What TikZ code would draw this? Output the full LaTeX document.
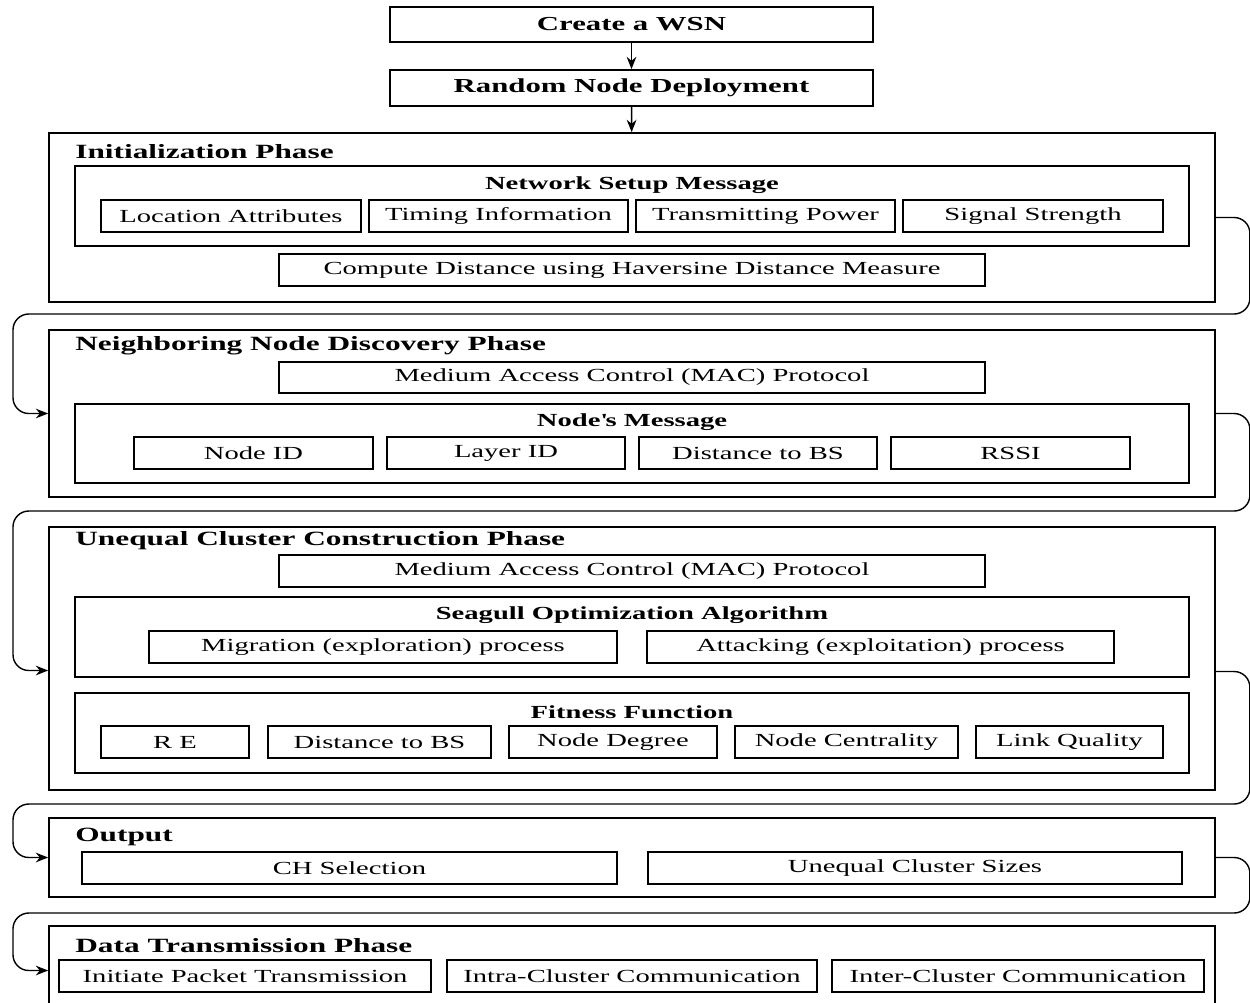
\documentclass[tikz,border=0pt]{standalone}
\usepackage{fontspec}
\setmainfont{Liberation Serif}[FakeStretch=1.55]
\usetikzlibrary{arrows.meta}

\begin{document}
\begin{tikzpicture}[x=0.02cm,y=-0.02cm,>={Stealth[length=7pt,width=5.5pt]},
  box/.style 2 args={draw,line width=1pt,minimum width=#1*0.02cm,minimum height=#2*0.02cm,inner sep=0pt,font=\fontsize{10.5}{12}\selectfont},
  phase/.style={anchor=west,inner sep=0pt,font=\fontsize{11.5}{13}\selectfont\bfseries},
  head/.style={inner sep=0pt,font=\fontsize{10.5}{12}\selectfont\bfseries},
  flow/.style={->,line width=0.8pt,rounded corners=9pt}]
  \useasboundingbox (0,0) rectangle (1250,1002);
  \clip (0,0) rectangle (1250,1002);
  % Start
  \node[box={483}{35},font=\fontsize{11.3}{13}\selectfont\bfseries] (wsn) at (631.5,24.5) {Create a WSN};
  \node[box={483}{36},font=\fontsize{11.3}{13}\selectfont\bfseries] (deploy) at (631.5,88) {Random Node Deployment};
  % Initialization
  \node[box={1166}{169}] (init) at (632,217.5) {};
  \node[phase] (initT) at (75,152) {Initialization Phase};
  \node[box={1114}{80}] (setup) at (632,206) {};
  \node[head] (setupT) at (632,185) {Network Setup Message};
  \node[box={260}{32}] (loc) at (231,216) {Location Attributes};
  \node[box={259}{32}] (timing) at (498.5,216) {Timing Information};
  \node[box={259}{32}] (power) at (765.5,216) {Transmitting Power};
  \node[box={260}{32}] (signal) at (1033,216) {Signal Strength};
  \node[box={706}{32}] (hav) at (632,270) {Compute Distance using Haversine Distance Measure};
  % Neighbor discovery
  \node[box={1166}{167}] (neigh) at (632,413.5) {};
  \node[phase] (neighT) at (75,346) {Neighboring Node Discovery Phase};
  \node[box={706}{31}] (macA) at (632,377.5) {Medium Access Control (MAC) Protocol};
  \node[box={1114}{79}] (msg) at (632,443.5) {};
  \node[head] (msgT) at (632,422) {Node\textquotesingle s Message};
  \node[box={239}{32}] (nid) at (253.5,453) {Node ID};
  \node[box={238}{32}] (lid) at (506,453) {Layer ID};
  \node[box={238}{32}] (dist) at (758,453) {Distance to BS};
  \node[box={239}{32}] (rssi) at (1010.5,453) {RSSI};
  % Cluster construction
  \node[box={1166}{263}] (uneq) at (632,658.5) {};
  \node[phase] (uneqT) at (75,541) {Unequal Cluster Construction Phase};
  \node[box={706}{32}] (macB) at (632,571) {Medium Access Control (MAC) Protocol};
  \node[box={1114}{80}] (soa) at (632,637) {};
  \node[head] (soaT) at (632,615) {Seagull Optimization Algorithm};
  \node[box={468}{32}] (migr) at (383,647) {Migration (exploration) process};
  \node[box={467}{32}] (attack) at (880.5,647) {Attacking (exploitation) process};
  \node[box={1114}{80}] (fit) at (632,733) {};
  \node[head] (fitT) at (632,712) {Fitness Function};
  \node[box={148}{32}] (re) at (175,742) {R E};
  \node[box={223}{32}] (dbs) at (379.5,742) {Distance to BS};
  \node[box={208}{32}] (deg) at (613,742) {Node Degree};
  \node[box={223}{32}] (cent) at (846.5,742) {Node Centrality};
  \node[box={187}{32}] (link) at (1069.5,742) {Link Quality};
  % Output
  \node[box={1166}{79}] (out) at (632,857.5) {};
  \node[phase] (outT) at (75,837) {Output};
  \node[box={535}{32}] (ch) at (349.5,868) {CH Selection};
  \node[box={534}{32}] (sizes) at (915,868) {Unequal Cluster Sizes};
  % Data transmission
  \node[box={1166}{89}] (data) at (632,970.5) {};
  \node[phase] (dataT) at (75,946) {Data Transmission Phase};
  \node[box={372}{32}] (pkt) at (245,976) {Initiate Packet Transmission};
  \node[box={370}{32}] (intra) at (632,976) {Intra-Cluster Communication};
  \node[box={372}{32}] (inter) at (1018,976) {Inter-Cluster Communication};
  % Arrows
  \draw[->,line width=0.9pt] (wsn) -- (deploy);
  \draw[->,line width=0.9pt] (deploy) -- (init);
  \draw[flow] (init.east) -- ++(34,0) |- (13,314) |- (neigh.west);
  \draw[flow] (neigh.east) -- ++(34,0) |- (13,511) |- ([yshift=-0.24cm]uneq.west);
  \draw[flow] ([yshift=-0.26cm]uneq.east) -- ++(34,0) |- (13,804) |- (out.west);
  \draw[flow] (out.east) -- ++(34,0) |- (13,913) |- (data.west);
\end{tikzpicture}
\end{document}
